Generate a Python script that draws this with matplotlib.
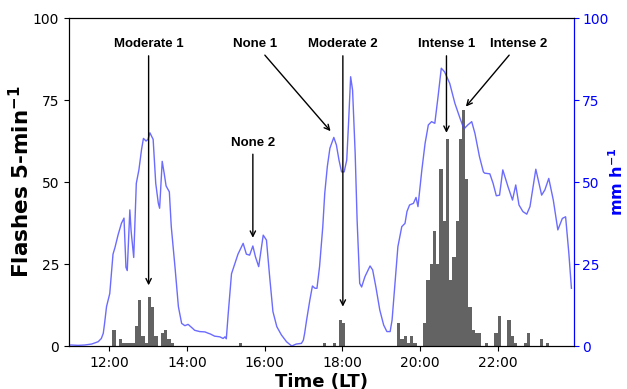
"""
Lightning flashes (5-min bins) vs. rain rate for one storm day.
Bars = flashes per 5 min (left axis), blue line = rain rate in mm/h (right axis).
"""
import matplotlib
matplotlib.use("Agg")
import matplotlib.pyplot as plt


def hm(s):
    h, m = s.split(":")
    return int(h) + int(m) / 60.0


# flashes per 5-min bin (bin start time, count)
flash_times = ["12:05", "12:15", "12:20", "12:25", "12:30", "12:35", "12:40", "12:45",
               "12:50", "12:55", "13:00", "13:05", "13:10", "13:20", "13:25", "13:30",
               "13:35", "15:20", "17:30", "17:45", "17:55", "18:00",
               "19:25", "19:30", "19:35", "19:40", "19:45", "19:50",
               "20:05", "20:10", "20:15", "20:20", "20:25", "20:30", "20:35", "20:40",
               "20:45", "20:50", "20:55", "21:00", "21:05", "21:10", "21:15", "21:20",
               "21:25", "21:30", "21:40", "21:55", "22:00", "22:15", "22:20", "22:25",
               "22:40", "22:45", "23:05", "23:15"]
flash_counts = [5, 2, 1, 1, 1, 1, 6, 14,
                3, 1, 15, 12, 3, 4, 5, 2,
                1, 1, 1, 1, 8, 7,
                7, 2, 3, 1, 3, 1,
                7, 20, 25, 35, 25, 54, 38, 63,
                20, 27, 38, 63, 72, 51, 12, 5,
                4, 4, 1, 4, 9, 8, 3, 1,
                1, 4, 2, 1]

# rain rate (mm/h)
rain_times = ["10:58", "11:02", "11:12", "11:22", "11:33", "11:43", "11:48", "11:51",
              "11:53", "11:56", "12:01", "12:06", "12:09", "12:14", "12:19", "12:23",
              "12:26", "12:28", "12:30", "12:32", "12:34", "12:38", "12:41", "12:42",
              "12:46", "12:50", "12:53", "12:57", "13:00", "13:03", "13:08", "13:12",
              "13:16", "13:18", "13:22", "13:25", "13:28", "13:33", "13:36", "13:42",
              "13:47", "13:49", "13:52", "13:57", "14:02", "14:10", "14:12", "14:20",
              "14:28", "14:33", "14:36", "14:43", "14:51", "14:56", "14:59", "15:01",
              "15:04", "15:09", "15:14", "15:19", "15:27", "15:32", "15:37", "15:42",
              "15:46", "15:51", "15:55", "15:58", "16:03", "16:08", "16:13", "16:19",
              "16:26", "16:34", "16:42", "16:49", "16:57", "17:00", "17:02", "17:05",
              "17:10", "17:14", "17:18", "17:21", "17:25", "17:30", "17:33", "17:37",
              "17:41", "17:47", "17:51", "17:55", "17:59", "18:03", "18:07", "18:10",
              "18:13", "18:16", "18:20", "18:23", "18:27", "18:30", "18:35", "18:43",
              "18:47", "18:52", "18:58", "19:04", "19:09", "19:14", "19:17", "19:21",
              "19:26", "19:32", "19:37", "19:40", "19:44", "19:50", "19:54", "19:57",
              "20:03", "20:08", "20:13", "20:18", "20:23", "20:28", "20:33", "20:38",
              "20:46", "20:54", "21:02", "21:08", "21:14", "21:20", "21:25", "21:32",
              "21:38", "21:40", "21:48", "21:53", "21:58", "22:03", "22:08", "22:16",
              "22:23", "22:28", "22:33", "22:39", "22:45", "22:50", "22:59", "23:08",
              "23:13", "23:19", "23:26", "23:33", "23:40", "23:45", "23:50", "23:54"]
rain_rate = [0.3, 0.3, 0.2, 0.3, 0.6, 1.3, 2.3, 3.9,
             6.9, 12, 16, 28, 30, 34, 37.4, 39,
             24, 23, 32, 41.5, 35, 27, 43.5, 49.6,
             53.7, 59.8, 63.3, 62.5, 63, 65, 63, 49.6,
             43.5, 42, 56.3, 52.7, 48.8, 47, 36.4, 23.5,
             12, 10, 6.9, 6.2, 6.6, 5.2, 4.8, 4.4,
             4.3, 3.9, 3.7, 3.0, 2.8, 2.3, 2.8, 2.2,
             10, 22, 25, 28, 31.3, 28, 27.7, 30.5,
             27.2, 24.2, 29.8, 33.8, 32.3, 21, 10.5, 5.9,
             3.4, 1.3, 0.0, 0.6, 0.8, 1.8, 3.9, 7.9,
             14, 18.3, 17.6, 17.6, 24.2, 36.4, 46.5, 54.7,
             60.3, 63.6, 61.3, 56.7, 53.1, 53.1, 56.7, 68.9,
             82.1, 78, 58.8, 38.4, 19.1, 18, 21.1, 24.4,
             23.2, 18, 11, 6.4, 4.4, 4.4, 7.9, 18,
             30.3, 36.4, 37.4, 41, 43, 43.5, 45.3, 42.5,
             53.7, 61.8, 67.4, 68.4, 67.9, 76, 84.7, 83.6,
             80.1, 74, 69.4, 66.2, 67.4, 68.4, 64.8, 57.7,
             53.1, 52.7, 52.5, 49.6, 45.8, 46, 53.7, 48.6,
             44.5, 49.1, 43, 41, 40.2, 42.5, 53.9, 46,
             47.6, 51.1, 44.5, 35.4, 38.9, 39.4, 28.3, 17.6]

# event labels: (label, text time, text level, arrow tip time, tip level)
events = [("Moderate 1", "13:01", 92, "13:01", 18.5),
          ("None 1", "15:46", 92, "17:42", 65.5),
          ("None 2", "15:42", 62, "15:42", 33),
          ("Moderate 2", "18:01", 92, "18:01", 12),
          ("Intense 1", "20:41", 92, "20:41", 65),
          ("Intense 2", "22:32", 92, "21:11", 73)]

xticks = ["12:00", "14:00", "16:00", "18:00", "20:00", "22:00"]
yticks = [0, 25, 50, 75, 100]

fig = plt.figure(figsize=(6.27, 3.89), dpi=100)
ax = fig.add_axes([0.110, 0.1105, 0.8055, 0.8432])
ax2 = ax.twinx()

ax.bar([hm(t) for t in flash_times], flash_counts, width=5 / 60, align="edge",
       color="#636363", linewidth=0)
ax2.plot([hm(t) for t in rain_times], rain_rate, color="#4646ff", lw=1.0, alpha=0.8)

ax.set_xlim(hm("10:58"), hm("23:58"))
ax.set_ylim(0, 100)
ax2.set_ylim(0, 100)
ax.set_xticks([hm(t) for t in xticks])
ax.set_xticklabels(xticks, fontsize=10)
ax.set_yticks(yticks)
ax.set_yticklabels([str(v) for v in yticks], fontsize=10)
ax2.set_yticks(yticks)
ax2.set_yticklabels([str(v) for v in yticks], fontsize=10, color="blue")
ax2.tick_params(axis="y", colors="blue", pad=2.5)
ax2.spines["right"].set_color("blue")

ax.set_xlabel("Time (LT)", fontsize=13, fontweight="bold", labelpad=2)
ax.set_ylabel(r"Flashes 5-min$^{\mathbf{-1}}$", fontsize=15.5, fontweight="bold",
              labelpad=0)
ax2.set_ylabel(r"mm h$^{\mathbf{-1}}$", fontsize=11.5, fontweight="bold",
               color="blue", labelpad=-1)

for label, tx, ty, px, py in events:
    ax2.annotate(label, xy=(hm(px), py), xytext=(hm(tx), ty),
                 ha="center", va="center", fontsize=9.5, fontweight="bold",
                 family="Liberation Sans",
                 arrowprops=dict(arrowstyle="->", color="black", lw=1.0,
                                 shrinkA=2, shrinkB=0))

fig.savefig("out.png", dpi=100)
plt.close(fig)
